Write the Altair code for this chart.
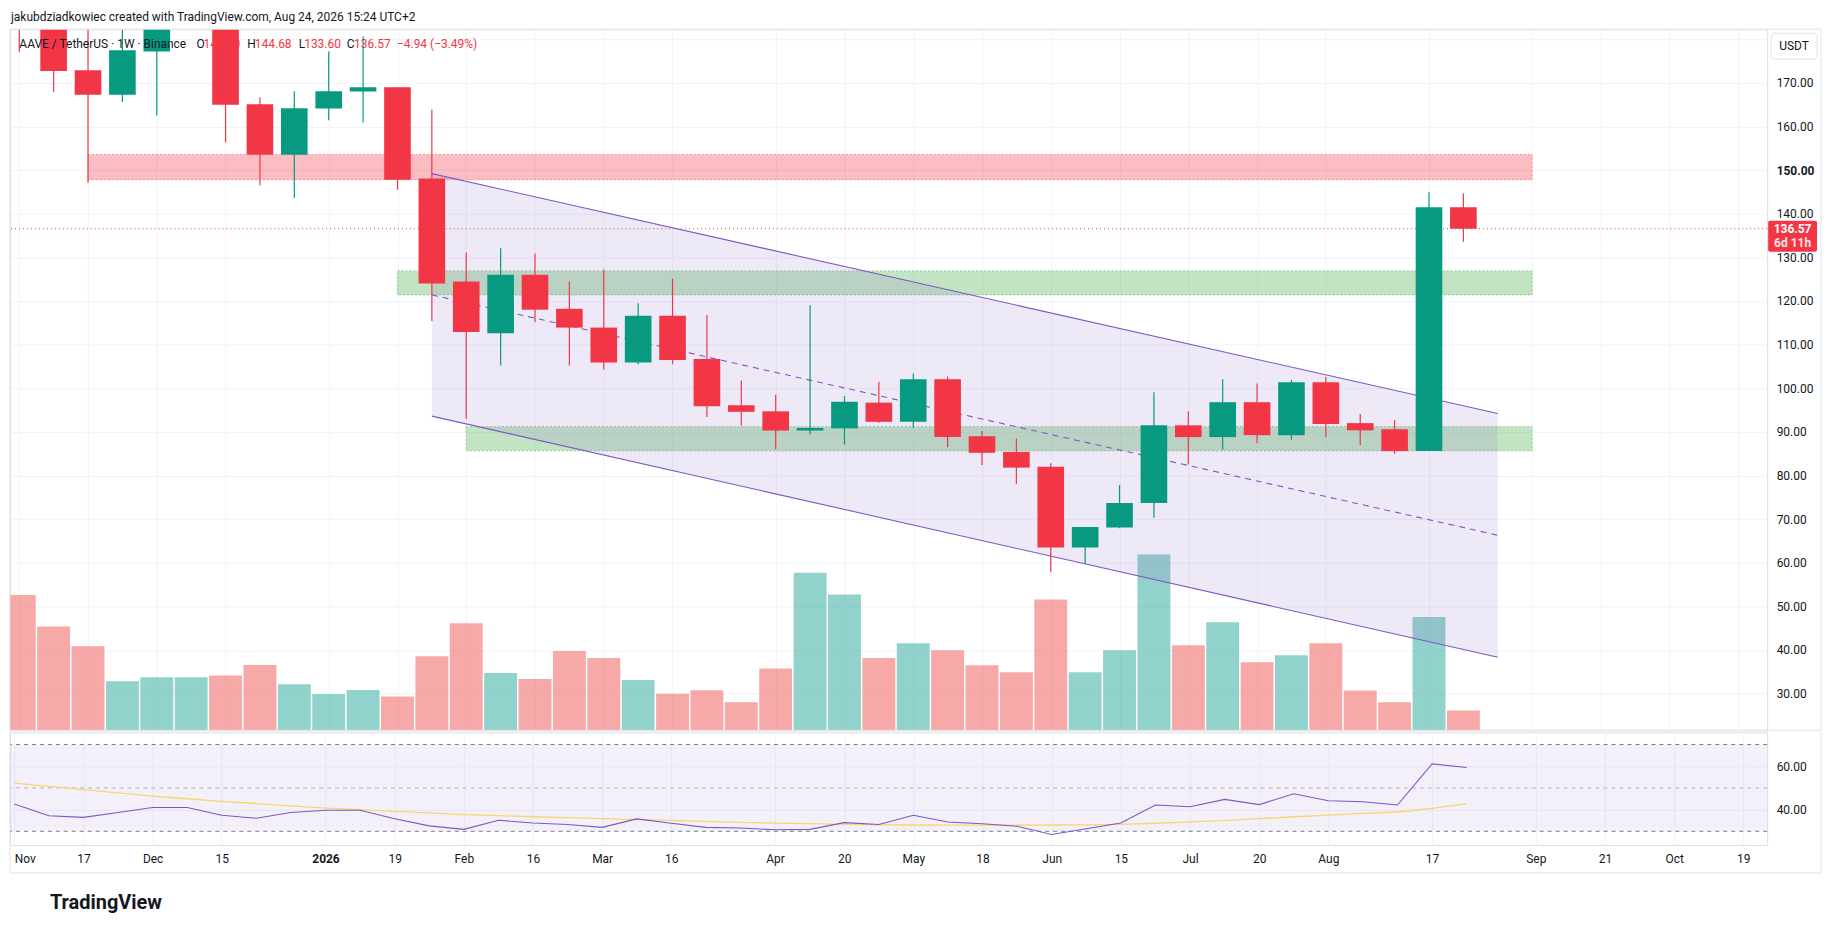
import altair as alt
import pandas as pd

# ---------------- data (weekly AAVE/USDT) ----------------
weeks = list(range(-1, 42))
opens = [190.0, 186.0, 172.9, 167.3, 177.2, 184.5, 189.5, 165.1, 153.5, 164.1,
         168.0, 169.0, 148.1, 124.45, 112.6, 126.0, 118.2, 113.9, 105.9, 116.6,
         106.7, 96.1, 94.7, 90.3, 90.8, 96.7, 92.3, 102.05, 89.0, 85.4,
         82.0, 63.5, 68.1, 73.7, 91.5, 88.8, 96.8, 89.25, 101.4, 92.0,
         90.6, 85.6, 141.5]
highs = [194.0, 188.0, 183.5, 184.0, 186.0, 192.0, 191.0, 166.7, 168.1, 177.2,
         180.6, 169.0, 163.9, 131.1, 132.1, 130.9, 124.45, 127.2, 119.5, 125.1,
         116.8, 101.75, 98.5, 119.0, 98.2, 101.5, 103.4, 102.7, 90.2, 88.4,
         82.8, 68.2, 77.8, 99.1, 94.7, 102.05, 101.1, 101.9, 102.6, 94.1,
         92.7, 144.9, 144.68]
lows = [177.0, 167.9, 147.1, 165.6, 162.5, 183.0, 156.3, 146.5, 143.6, 161.4,
        160.9, 145.5, 115.4, 93.0, 105.2, 115.1, 105.2, 104.3, 105.5, 105.5,
        93.4, 91.4, 86.0, 89.4, 87.1, 92.1, 90.9, 86.5, 82.4, 78.1,
        57.8, 59.7, 67.9, 70.3, 82.5, 85.9, 87.4, 88.2, 88.8, 87.0,
        85.0, 85.6, 133.6]
closes = [186.0, 172.7, 167.3, 177.5, 184.5, 189.5, 165.0, 153.5, 164.2, 168.1,
          169.0, 147.8, 124.0, 112.9, 126.0, 118.0, 113.9, 105.9, 116.6, 106.5,
          95.9, 94.6, 90.3, 90.9, 96.9, 92.3, 102.05, 88.8, 85.2, 81.8,
          63.5, 68.2, 73.7, 91.5, 88.8, 96.8, 89.25, 101.4, 91.8, 90.35,
          85.6, 141.51, 136.57]
volumes = [115.8, 89.0, 72.0, 42.0, 45.5, 45.5, 47.0, 56.0, 39.5, 31.0,
           34.4, 29.0, 63.5, 91.7, 49.0, 44.0, 68.0, 62.0, 43.0, 31.3,
           34.2, 24.0, 53.0, 135.0, 116.4, 62.0, 74.5, 68.6, 55.8, 49.8,
           112.0, 49.8, 68.6, 150.6, 72.9, 92.5, 58.3, 64.3, 74.5, 34.0,
           24.0, 97.0, 17.0]
rsi = [42.6, 37.2, 36.4, 38.7, 41.0, 41.0, 37.4, 36.0, 38.7, 39.7,
       39.7, 35.8, 32.5, 30.9, 35.1, 33.8, 33.1, 31.8, 35.7, 33.7,
       31.8, 31.5, 30.7, 30.9, 34.0, 33.1, 37.4, 34.3, 33.5, 32.3,
       28.5, 31.2, 33.8, 42.1, 41.3, 44.7, 42.3, 47.3, 44.1, 43.6,
       42.1, 61.1, 59.4]
rsi_ma = [52.2, 50.7, 49.2, 47.7, 46.2, 45.0, 43.8, 42.8, 41.7, 40.7,
          40.0, 39.2, 38.5, 37.7, 37.2, 36.7, 36.3, 35.8, 35.4, 35.0,
          34.6, 34.1, 33.8, 33.5, 33.2, 33.0, 32.9, 32.8, 32.8, 32.8,
          32.9, 33.0, 33.2, 33.7, 34.3, 34.9, 35.8, 36.7, 37.5, 38.3,
          38.9, 40.6, 42.6]

tick_weeks = [-1, 1, 3, 5, 8, 10, 12, 14, 16, 18, 21, 23, 25, 27, 29, 31, 33, 35, 37, 40, 43, 45, 47, 49]
tick_labels = ["Nov", "17", "Dec", "15", "2026", "19", "Feb", "16", "Mar", "16", "Apr", "20",
               "May", "18", "Jun", "15", "Jul", "20", "Aug", "17", "Sep", "21", "Oct", "19"]
price_ticks = list(range(30, 190, 10))
rsi_ticks = [40, 60]
rsi_band = [30, 70]
rsi_mid = [50]

zone_start = [1, 10, 12]
zone_end = [43, 43, 43]
zone_low = [147.8, 121.4, 85.65]
zone_high = [153.6, 126.9, 91.2]
zone_kind = ["supply", "demand", "demand"]

chan_weeks = [11, 42]
chan_upper = [149.2, 94.2]
chan_lower = [93.6, 38.35]
chan_mid = [121.4, 66.3]

last_price = 136.57
header = "jakubdziadkowiec created with TradingView.com, Aug 24, 2026 15:24 UTC+2"

# ---------------- styling ----------------
W = 1762
H_TOP = 703
H_BOT = 113
FRAME_W = 1816
TXT = "#131722"
GRID = "#F0F3FA"
FRAME = "#E0E3EB"
UP = "#089981"
DOWN = "#F23645"
FONT = "Roboto"

candles = pd.DataFrame({"idx": weeks, "open": opens, "high": highs, "low": lows,
                        "close": closes, "vol": volumes})
candles["dir"] = ["up" if c >= o else "down" for o, c in zip(opens, closes)]
zones = pd.DataFrame({"idx": zone_start, "idx2": zone_end, "lo": zone_low,
                      "hi": zone_high, "kind": zone_kind})
chan = pd.DataFrame({"idx": chan_weeks, "upper": chan_upper, "lower": chan_lower, "mid": chan_mid})
osc = pd.DataFrame({"idx": weeks, "rsi": rsi, "ma": rsi_ma})
one = pd.DataFrame({"a": [0]})
lastdf = pd.DataFrame({"p": [last_price], "lbl": [f"{last_price:.2f}"]})

xs = alt.Scale(domain=[-1.124, 49.69], nice=False, zero=False)
ys = alt.Scale(domain=[21.6, 182.3], nice=False, zero=False)
rs = alt.Scale(domain=[23.7, 75.66], nice=False, zero=False)

label_expr = ("[" + ",".join(f"'{l}'" for l in tick_labels) + "][indexof(["
              + ",".join(str(t) for t in tick_weeks) + "], datum.value)]")

top_x_axis = alt.Axis(values=tick_weeks, labels=False, ticks=False, domain=False,
                      grid=True, gridColor=GRID, title=None)
bot_x_axis = alt.Axis(values=tick_weeks, labelExpr=label_expr, ticks=False, domain=False,
                      grid=True, gridColor=GRID, title=None, labelFontSize=12,
                      labelColor=TXT, labelPadding=8.5, labelOverlap=False,
                      labelAlign={"condition": {"test": "datum.value < 0", "value": "left"}, "value": "center"},
                      labelFontWeight={"condition": {"test": "datum.value == 8", "value": "bold"}, "value": "normal"})
price_axis = alt.Axis(orient="right", values=price_ticks,
                      labelExpr="datum.value >= 180 ? '' : format(datum.value, '.2f')",
                      ticks=False, domain=False, grid=True, gridColor=GRID, labelPadding=9,
                      labelFontSize=12, labelColor=TXT, title=None, labelOverlap=False,
                      labelFontWeight={"condition": {"test": "datum.value == 150", "value": "bold"}, "value": "normal"})
rsi_axis = alt.Axis(orient="right", values=rsi_ticks, format=".2f", ticks=False, domain=False,
                    grid=True, gridColor=GRID, labelPadding=9, labelFontSize=12,
                    labelColor=TXT, title=None)


def XT(field="idx"):
    return alt.X(f"{field}:Q", scale=xs, axis=top_x_axis)


def YP(field):
    return alt.Y(f"{field}:Q", scale=ys, axis=price_axis)


# ---------------- price pane ----------------
volume = alt.Chart(candles).mark_bar(size=33, opacity=0.5, clip=True, orient="vertical").encode(
    x=XT(),
    y=alt.Y("vol:Q", scale=alt.Scale(domain=[0, 600.7], nice=False, zero=True), axis=None),
    color=alt.condition(alt.datum.dir == "up", alt.value("#26A69A"), alt.value("#EF5350")),
)

supply = alt.Chart(zones).transform_filter(alt.datum.kind == "supply").mark_rect(
    fill=DOWN, fillOpacity=0.33, stroke=DOWN, strokeOpacity=0.45, strokeWidth=1, strokeDash=[2, 2]
).encode(x=XT(), x2="idx2:Q", y=YP("lo"), y2="hi:Q")

demand = alt.Chart(zones).transform_filter(alt.datum.kind == "demand").mark_rect(
    fill="#4CAF50", fillOpacity=0.34, stroke="#4CAF50", strokeOpacity=0.55, strokeWidth=1, strokeDash=[2, 2]
).encode(x=XT(), x2="idx2:Q", y=YP("lo"), y2="hi:Q")

chan_fill = alt.Chart(chan).mark_area(color="#9575CD", opacity=0.16).encode(
    x=XT(), y=YP("lower"), y2="upper:Q")
chan_up = alt.Chart(chan).mark_line(color="#7E57C2", strokeWidth=1.1).encode(x=XT(), y=YP("upper"))
chan_lo = alt.Chart(chan).mark_line(color="#7E57C2", strokeWidth=1.1).encode(x=XT(), y=YP("lower"))
chan_md = alt.Chart(chan).mark_line(color="#7E57C2", strokeWidth=1.1, strokeDash=[6, 5]).encode(
    x=XT(), y=YP("mid"))

price_line = alt.Chart(lastdf).mark_rule(color=DOWN, strokeDash=[1, 3], strokeWidth=1).encode(y=YP("p"))

legend_segments = [
    ("AAVE / TetherUS \u00b7 1W \u00b7 Binance", 9.4, TXT),
    ("O", 187, TXT), ("141.50", 194, DOWN),
    ("H", 238, TXT), ("144.68", 245.5, DOWN),
    ("L", 289.5, TXT), ("133.60", 295, DOWN),
    ("C", 337.7, TXT), ("136.57", 345, DOWN),
    ("\u22124.94 (\u22123.49%)", 388, DOWN),
]
legend_layers = [
    alt.Chart(one).mark_text(text=t, align="left", baseline="middle", fontSize=12, color=c).encode(
        x=alt.value(px), y=alt.value(15))
    for t, px, c in legend_segments
]

wicks = alt.Chart(candles).mark_rule(strokeWidth=1.2, clip=True).encode(
    x=XT(), y=YP("low"), y2="high:Q",
    color=alt.condition(alt.datum.dir == "up", alt.value(UP), alt.value(DOWN)))
bodies = alt.Chart(candles).mark_bar(size=26.7, clip=True, orient="vertical").encode(
    x=XT(), y=YP("open"), y2="close:Q",
    color=alt.condition(alt.datum.dir == "up", alt.value(UP), alt.value(DOWN)))

usdt_box = alt.Chart(one).mark_rect(fill="white", stroke=FRAME, strokeWidth=1, cornerRadius=3).encode(
    x=alt.value(1766), x2=alt.value(1812), y=alt.value(4), y2=alt.value(30))
usdt_txt = alt.Chart(one).mark_text(text="USDT", align="center", baseline="middle", fontSize=12,
                                    color=TXT).encode(x=alt.value(1789), y=alt.value(17))
price_box = alt.Chart(lastdf).mark_rect(fill=DOWN, yOffset=-8, y2Offset=23, cornerRadius=2).encode(
    x=alt.value(1763), x2=alt.value(1812), y=YP("p"), y2="p:Q")
price_txt = alt.Chart(lastdf).mark_text(align="center", baseline="middle", fontSize=12,
                                        fontWeight="bold", color="white").encode(
    x=alt.value(1787.5), y=YP("p"), text="lbl:N")
timer_txt = alt.Chart(lastdf).mark_text(text="6d 11h", align="center", baseline="middle", fontSize=12,
                                        fontWeight="bold", color="#FDE3E5", dy=14).encode(
    x=alt.value(1787.5), y=YP("p"))

header_txt = alt.Chart(one).mark_text(text=header, align="left", baseline="alphabetic",
                                      fontSize=12, color=TXT).encode(x=alt.value(1), y=alt.value(-8))

frame_top = [
    alt.Chart(one).mark_rule(color=FRAME, strokeWidth=1).encode(
        x=alt.value(0), x2=alt.value(FRAME_W), y=alt.value(0)),
    alt.Chart(one).mark_rule(color=FRAME, strokeWidth=1).encode(
        x=alt.value(0), x2=alt.value(FRAME_W), y=alt.value(H_TOP)),
    alt.Chart(one).mark_rule(color=FRAME, strokeWidth=1).encode(
        x=alt.value(0), y=alt.value(0), y2=alt.value(H_TOP)),
    alt.Chart(one).mark_rule(color=FRAME, strokeWidth=1).encode(
        x=alt.value(FRAME_W), y=alt.value(0), y2=alt.value(H_TOP)),
]

price_group = alt.layer(
    supply, demand, chan_fill, chan_up, chan_lo, chan_md, price_line,
    wicks, bodies, *legend_layers, usdt_box, usdt_txt, price_box, price_txt, timer_txt,
    header_txt, *frame_top,
)
top = alt.layer(volume, price_group).resolve_scale(y="independent").properties(width=W, height=H_TOP)

# ---------------- RSI pane ----------------
def XB(field="idx"):
    return alt.X(f"{field}:Q", scale=xs, axis=bot_x_axis)


def YR(field):
    return alt.Y(f"{field}:Q", scale=rs, axis=rsi_axis)


banddf = pd.DataFrame({"lo": [rsi_band[0]], "hi": [rsi_band[1]]})
band = alt.Chart(banddf).mark_rect(color="#7E57C2", opacity=0.09).encode(
    x=alt.value(0), x2=alt.value(W), y=YR("lo"), y2="hi:Q")
lvl_outer = alt.Chart(pd.DataFrame({"v": rsi_band})).mark_rule(
    color="#787B86", strokeDash=[4, 4], strokeWidth=1).encode(y=YR("v"))
lvl_mid = alt.Chart(pd.DataFrame({"v": rsi_mid})).mark_rule(
    color="#787B86", strokeDash=[4, 4], strokeWidth=1, opacity=0.5).encode(y=YR("v"))
ma_line = alt.Chart(osc).mark_line(color="#F9D56E", strokeWidth=1.3).encode(x=XB(), y=YR("ma"))
rsi_line = alt.Chart(osc).mark_line(color="#7E57C2", strokeWidth=1.1).encode(x=XB(), y=YR("rsi"))

logo = alt.Chart(one).mark_text(text="TradingView", align="left", baseline="alphabetic",
                                fontSize=20, fontWeight="bold", color=TXT).encode(
    x=alt.value(40), y=alt.value(177))
frame_bot = [
    alt.Chart(one).mark_rule(color=FRAME, strokeWidth=1).encode(
        x=alt.value(0), x2=alt.value(FRAME_W), y=alt.value(141)),
    alt.Chart(one).mark_rule(color=FRAME, strokeWidth=1).encode(
        x=alt.value(0), y=alt.value(0), y2=alt.value(141)),
    alt.Chart(one).mark_rule(color=FRAME, strokeWidth=1).encode(
        x=alt.value(FRAME_W), y=alt.value(0), y2=alt.value(141)),
]

bottom = alt.layer(band, lvl_outer, lvl_mid, ma_line, rsi_line, logo, *frame_bot).properties(
    width=W, height=H_BOT)

chart = alt.vconcat(top, bottom, spacing=0).properties(
    padding={"left": 1, "top": 1, "right": 5, "bottom": 5}
).configure_view(stroke=None).configure(font=FONT, background="white").configure_axis(
    labelFont=FONT)

chart.save("out.html", embed_options={"renderer": "svg", "actions": False})
